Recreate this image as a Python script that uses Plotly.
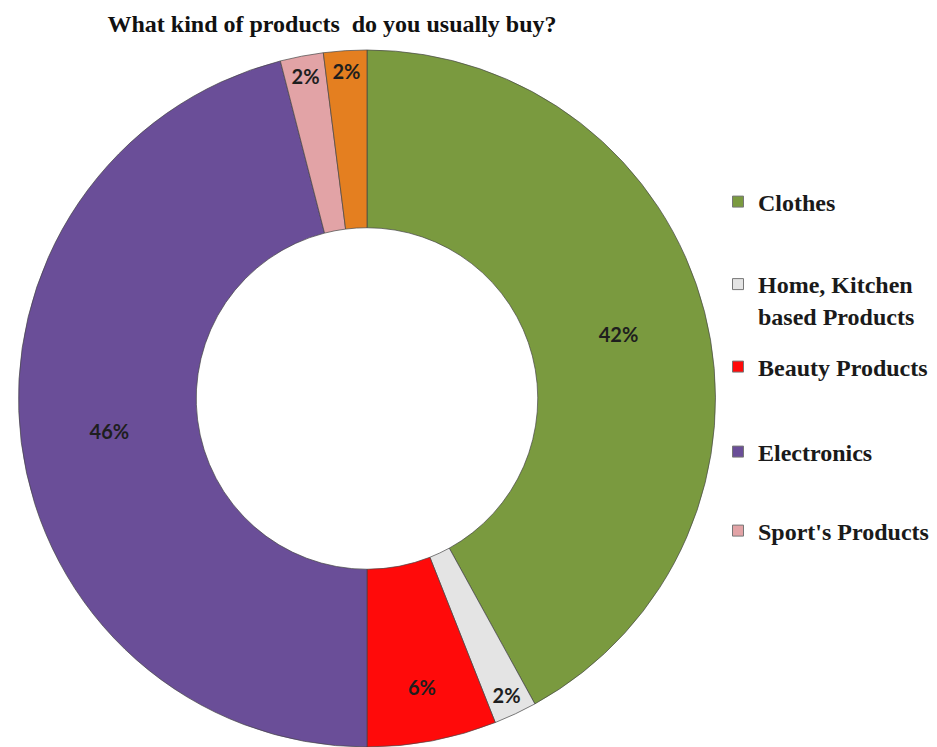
import plotly.graph_objects as go

categories = ["Clothes", "Home, Kitchen based Products", "Beauty Products",
              "Electronics", "Sport's Products", "Others"]
legend_labels = ["Clothes", "Home, Kitchen<br>based Products", "Beauty Products",
                 "Electronics", "Sport's Products"]
values = [42, 2, 6, 46, 2, 2]
colors = ["#7A9A3F", "#E4E4E4", "#FF0A0A", "#6A4E98", "#E2A3A6", "#E47F20"]

W, H = 937, 747

fig = go.Figure()
fig.add_trace(go.Pie(
    labels=categories,
    values=values,
    hole=0.49,
    sort=False,
    direction="clockwise",
    rotation=0,
    marker=dict(colors=colors, line=dict(color="rgba(70,70,70,0.7)", width=1)),
    texttemplate="%{value}%",
    textposition="inside",
    insidetextorientation="horizontal",
    textfont=dict(family="Lato", size=20, color="#1E1E1E", weight="bold"),
    showlegend=False,
    domain=dict(x=[10/W, 708/W], y=[8/H, 1 - 42/H]),
))

legend_ids = ["legend", "legend2", "legend3", "legend4", "legend5"]
for lab, col, lid in zip(legend_labels, colors[:5], legend_ids):
    fig.add_trace(go.Scatter(
        x=[None], y=[None], mode="markers", name=lab, legend=lid,
        marker=dict(symbol="square", size=11, color=col,
                    line=dict(color="#777", width=1)),
    ))

legend_centers_px = [194, 292, 359, 444, 523]
legend_font = dict(family="Liberation Serif", size=24, color="#1A1A1A", weight="bold")
layout_legends = {}
for lid, cy in zip(legend_ids, legend_centers_px):
    layout_legends[lid] = dict(x=710/W, xanchor="left", y=1 - cy/H, yanchor="middle",
                               font=legend_font, valign="top", itemwidth=30,
                               bgcolor="rgba(0,0,0,0)")

fig.update_layout(
    width=W, height=H,
    margin=dict(l=0, r=0, t=0, b=0),
    paper_bgcolor="white", plot_bgcolor="white",
    xaxis=dict(visible=False), yaxis=dict(visible=False),
    title=dict(text="What kind of products  do you usually buy?",
               font=dict(family="Liberation Serif", size=24, color="#111", weight="bold"),
               x=324/W, xanchor="center", xref="paper",
               y=1 - 16/H, yanchor="middle", yref="container"),
    uniformtext=dict(minsize=20, mode="show"),
    **layout_legends,
)

fig.write_html("out.html")
